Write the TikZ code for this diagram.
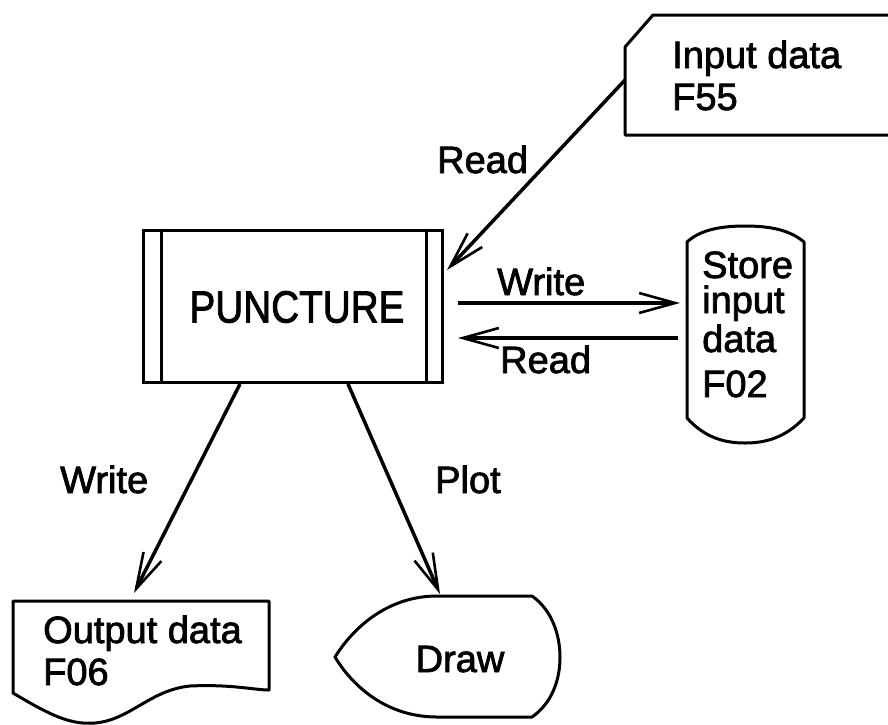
\documentclass[tikz,border=0pt]{standalone}
\usepackage{fontspec}
\setmainfont{Liberation Sans}
\newfontfamily\dfont{Liberation Sans}[FakeBold=2]
\usetikzlibrary{arrows.meta}
\begin{document}
\begin{tikzpicture}[x=1pt,y=-1pt,
  lbl/.style={inner sep=0pt, anchor=base west, font=\dfont\fontsize{38}{42}\selectfont},
  conn/.style={line width=3.5pt, -{Straight Barb[length=36pt,width=20pt,line width=2.6pt]}},
  outline/.style={line width=3pt, line join=round},
  procbox/.style={draw, line width=3pt, minimum width=299pt, minimum height=152pt, inner sep=0pt}]
\useasboundingbox (0,0) rectangle (888,724);
\clip (0,0) rectangle (888,724);

% PUNCTURE process box
\node[procbox] (punct) at (292.5,306) {};
\draw[outline] ([xshift=20pt]punct.north west) -- ([xshift=20pt]punct.south west);
\draw[outline] ([xshift=-17pt]punct.north east) -- ([xshift=-17pt]punct.south east);
\node[inner sep=0pt] (puncttext) at (297,307) {\dfont\fontsize{45}{50}\selectfont\scalebox{0.86}[1]{PUNCTURE}};

% Input data card
\draw[outline] (625,47) -- (653,15) -- (910,15) -- (910,135) -- (625,135) -- cycle;
\node[lbl] (in1) at (672,68) {Input data};
\node[lbl] (in2) at (672,110) {F55};

% Store input data
\draw[outline] (687,418) -- (687,242)
  .. controls (700,230) and (720,226) .. (745,226)
  .. controls (770,226) and (790,230) .. (804,242) -- (804,418)
  .. controls (785,438) and (765,443) .. (745,443)
  .. controls (725,443) and (705,438) .. (687,418) -- cycle;
\node[lbl] (st1) at (702,278) {Store};
\node[lbl] (st2) at (702,313) {input};
\node[lbl] (st3) at (702,352) {data};
\node[lbl] (st4) at (702,397) {F02};

% Output data document
\draw[outline] (13,693) -- (13,601) -- (269,601) -- (269,690)
  .. controls (255,690) and (230,684) .. (190,686)
  .. controls (150,690) and (130,720) .. (95,723)
  .. controls (70,725) and (50,715) .. (13,693) -- cycle;
\node[lbl] (out1) at (43,643) {Output data};
\node[lbl] (out2) at (43,685) {F06};

% Draw (display)
\draw[outline] (437,596) -- (532,596)
  .. controls (552,610) and (560,635) .. (560,657)
  .. controls (560,680) and (552,703) .. (532,717) -- (437,717)
  .. controls (390,717) and (355,690) .. (335,657)
  .. controls (355,625) and (390,596) .. (437,596);
\node[inner sep=0pt, anchor=base, font=\dfont\fontsize{38}{42}\selectfont] (drawtext) at (460,672) {Draw};

% connector end points
\coordinate (inR) at (625,80);
\coordinate (pR) at (447,270);
\coordinate (pW) at (458,303);
\coordinate (sW) at (680,303);
\coordinate (sR) at (678,338);
\coordinate (pR2) at (458,338);
\coordinate (pB1) at (240,384);
\coordinate (oT) at (134,593);
\coordinate (pB2) at (348,384);
\coordinate (dT) at (440,594);

\draw[conn] (inR) -- (pR);
\draw[conn] (pW) -- (sW);
\draw[conn] (sR) -- (pR2);
\draw[conn] (pB1) -- (oT);
\draw[conn] (pB2) -- (dT);

% labels
\node[lbl] (l1) at (437,173) {Read};
\node[lbl] (l2) at (497,295) {Write};
\node[lbl] (l3) at (500,373) {Read};
\node[lbl] (l4) at (60,493) {Write};
\node[lbl] (l5) at (435,493) {Plot};
\end{tikzpicture}
\end{document}
